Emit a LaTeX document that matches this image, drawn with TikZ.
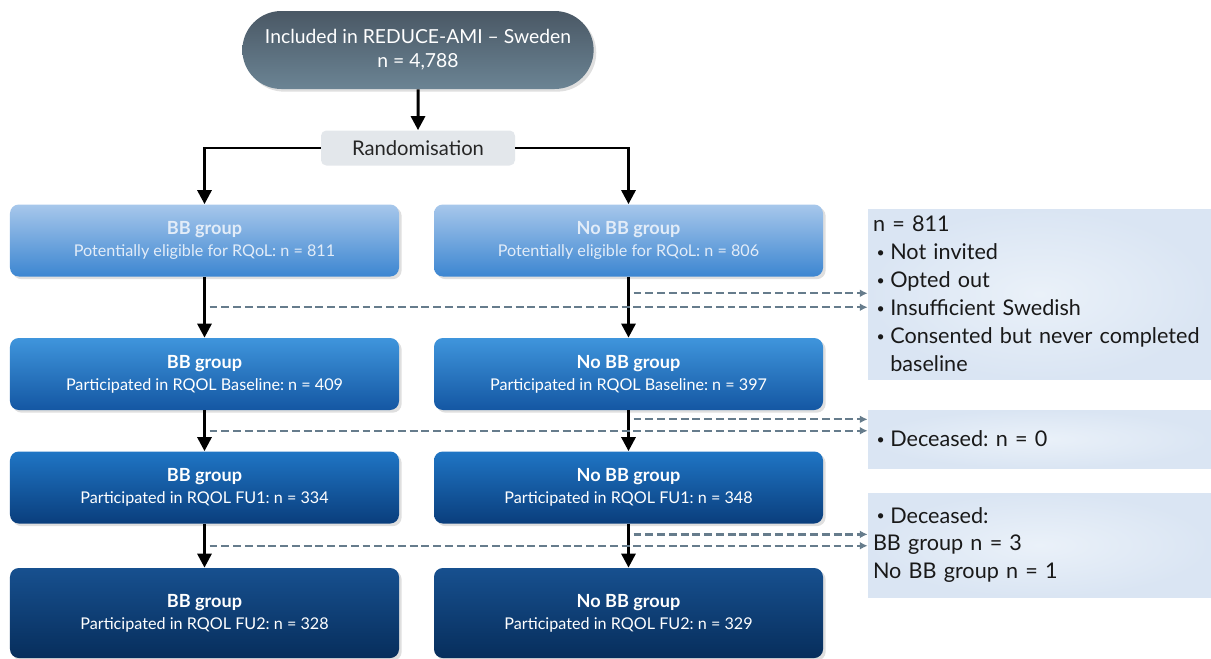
\documentclass[tikz,border=0pt]{standalone}
\usepackage{fontspec}
\setmainfont{Lato}
\usetikzlibrary{arrows.meta, shapes, positioning, calc, shadows}
\frenchspacing

\definecolor{slatetop}{HTML}{4A5865}
\definecolor{slatebot}{HTML}{6B8494}
\definecolor{randgray}{HTML}{E3E7EB}
\definecolor{lighttop}{HTML}{A7C7EB}
\definecolor{lightbot}{HTML}{3C86D1}
\definecolor{midtop}{HTML}{3F95DC}
\definecolor{midbot}{HTML}{1457A3}
\definecolor{darktop}{HTML}{1F75C5}
\definecolor{darkbot}{HTML}{0A3E7C}
\definecolor{deeptop}{HTML}{17508F}
\definecolor{deepbot}{HTML}{072E5C}
\definecolor{sidefill}{HTML}{DAE5F3}
\definecolor{sideinner}{HTML}{EAF1F9}
\definecolor{dashgray}{HTML}{667C8C}
\definecolor{fadetext}{HTML}{E2ECF8}

\newcommand{\bitem}{\makebox[0.8em][l]{\hspace{2pt}\raisebox{1.2pt}{\fontsize{8}{8}\selectfont\textbullet}}}
\newcommand{\grp}[1]{{\fontsize{10.3}{12.5}\selectfont\bfseries #1}}
\newcommand{\nohyph}{\hyphenpenalty 10000\relax}

\begin{document}
\begin{tikzpicture}[
  gbox/.style = {rectangle, rounded corners=5pt, minimum width=7.78cm, minimum height=1.44cm,
    align=center, text=white, font=\fontsize{9.2}{12.5}\selectfont,
    drop shadow={opacity=0.25, shadow xshift=1.5pt, shadow yshift=-1.5pt}},
  nlight/.style = {top color=lighttop, bottom color=lightbot, text=fadetext},
  nmid/.style = {top color=midtop, bottom color=midbot},
  ndark/.style = {top color=darktop, bottom color=darkbot},
  ndeep/.style = {top color=deeptop, bottom color=deepbot, minimum height=1.80cm},
  sbox/.style = {rectangle, minimum width=6.86cm, text width=6.66cm, inner xsep=0.10cm,
    inner ysep=0.1cm, align=left, font=\fontsize{12.3}{15.9}\selectfont\nohyph, text=black!90,
    inner color=sideinner, outer color=sidefill},
  mblack/.style = {line width=1.7pt, -{Triangle[length=8pt, width=8pt]}},
  mdash/.style = {draw=dashgray, line width=1.3pt, dash pattern=on 4.5pt off 2.2pt,
    -{Latex[length=4.5pt, width=4.5pt]}},
  ]
  \useasboundingbox (0,0) rectangle (24.22,-13.16);

  \node[rounded rectangle, minimum width=7.26cm, minimum height=1.56cm, top color=slatetop,
  bottom color=slatebot, text=white, align=center, font=\fontsize{11}{13.8}\selectfont,
  drop shadow={opacity=0.25, shadow xshift=1.5pt, shadow yshift=-1.5pt}]
  (incl) at (8.36, -1.00) {Included in REDUCE-AMI -- Sweden\\n = 4,788};
  \node[fill=randgray, rounded corners=3pt, minimum width=3.88cm, minimum height=0.70cm,
  font=\fontsize{11.5}{14}\selectfont, text=black!85,
  below = 1.96cm of incl.center, anchor=center] (rand) {Randomisation};

  \node[gbox, nlight, below left = 1.85cm and 4.27cm of rand.center, anchor=center] (bb1)
  {\grp{BB group}\\Potentially eligible for RQoL: n = 811};
  \node[gbox, nlight, right = 8.48cm of bb1.center, anchor=center] (nobb1)
  {\grp{No BB group}\\Potentially eligible for RQoL: n = 806};
  \node[gbox, nmid, below = 2.67cm of bb1.center, anchor=center] (bb2)
  {\grp{BB group}\\Participated in RQOL Baseline: n = 409};
  \node[gbox, nmid, right = 8.48cm of bb2.center, anchor=center] (nobb2)
  {\grp{No BB group}\\Participated in RQOL Baseline: n = 397};
  \node[gbox, ndark, below = 2.27cm of bb2.center, anchor=center] (bb3)
  {\grp{BB group}\\Participated in RQOL FU1: n = 334};
  \node[gbox, ndark, right = 8.48cm of bb3.center, anchor=center] (nobb3)
  {\grp{No BB group}\\Participated in RQOL FU1: n = 348};
  \node[gbox, ndeep, below = 2.51cm of bb3.center, anchor=center] (bb4)
  {\grp{BB group}\\Participated in RQOL FU2: n = 328};
  \node[gbox, ndeep, right = 8.48cm of bb4.center, anchor=center] (nobb4)
  {\grp{No BB group}\\Participated in RQOL FU2: n = 329};

  \node[sbox, minimum height=3.40cm, below right = 1.07cm and 8.22cm of nobb1.center,
  anchor=center] (excl1)
  {n = 811\\\bitem Not invited\\\bitem Opted out\\\bitem Insufficient Swedish\\
   \bitem Consented but never completed\\\hspace*{0.8em}baseline};
  \node[sbox, minimum height=1.16cm, below right = 1.30cm and 8.22cm of nobb2.center,
  anchor=center] (excl2) {\bitem Deceased: n = 0};
  \node[sbox, minimum height=2.08cm, below right = 1.15cm and 8.22cm of nobb3.center,
  anchor=center] (excl3) {\bitem Deceased:\\BB group n = 3\\No BB group n = 1};

  \coordinate (lmid1) at ($(bb1.south)!0.5!(bb2.north)$);
  \coordinate (lmid2) at ($(bb2.south)!0.5!(bb3.north)$);
  \coordinate (lmid3) at ($(bb3.south)!0.5!(bb4.north)$);
  \coordinate (rmid1) at ($(nobb1.south)!0.27!(nobb2.north) + (0.1,0)$);
  \coordinate (rmid2) at ($(nobb2.south)!0.22!(nobb3.north) + (0.1,0)$);
  \coordinate (rmid3) at ($(nobb3.south)!0.24!(nobb4.north) + (0.1,0)$);

  \draw[mblack] (incl) -- (rand);
  \draw[mblack] (rand.west) -| (bb1.north);
  \draw[mblack] (rand.east) -| (nobb1.north);
  \draw[mblack] (bb1) -- (bb2);
  \draw[mblack] (bb2) -- (bb3);
  \draw[mblack] (bb3) -- (bb4);
  \draw[mblack] (nobb1) -- (nobb2);
  \draw[mblack] (nobb2) -- (nobb3);
  \draw[mblack] (nobb3) -- (nobb4);

  \draw[mdash] ([xshift=0.1cm]lmid1) -- (lmid1 -| excl1.west);
  \draw[mdash] (rmid1) -- (rmid1 -| excl1.west);
  \draw[mdash] ([xshift=0.1cm]lmid2) -- (lmid2 -| excl2.west);
  \draw[mdash] (rmid2) -- (rmid2 -| excl2.west);
  \draw[mdash] ([xshift=0.1cm]lmid3) -- (lmid3 -| excl3.west);
  \draw[mdash] (rmid3) -- (rmid3 -| excl3.west);
\end{tikzpicture}
\end{document}
